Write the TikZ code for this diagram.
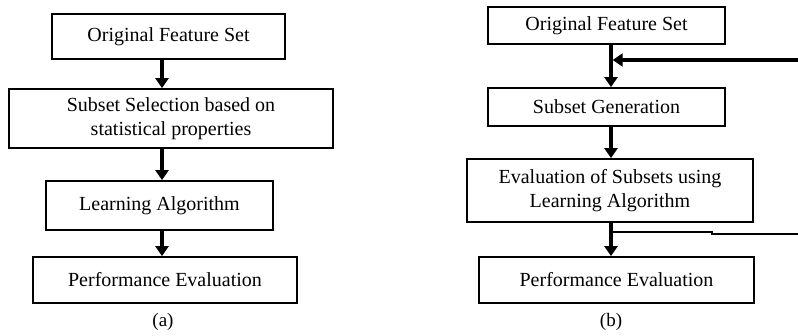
\documentclass[tikz,border=0pt]{standalone}
\usepackage{fontspec}
\setmainfont{Liberation Serif}
\usetikzlibrary{arrows.meta}
\begin{document}
\begin{tikzpicture}[x=1pt,y=-1pt,
  box/.style={draw=black,line width=1.8pt,inner sep=0pt,align=center,font=\fontsize{20}{24}\selectfont},
  flow/.style={line width=3.4pt,-{Triangle[width=13pt,length=10pt]}},
  thin/.style={line width=1.8pt},
  lab/.style={font=\fontsize{19}{23}\selectfont}]
\useasboundingbox (0,0) rectangle (798,335);
% (a)
\node[box,minimum width=233pt,minimum height=45pt] (a1) at (168.5,36.5) {Original Feature Set};
\node[box,minimum width=324pt,minimum height=59pt] (a2) at (171,118.5) {Subset Selection based on\\statistical properties};
\node[box,minimum width=227pt,minimum height=49pt] (a3) at (159.5,205.5) {Learning Algorithm};
\node[box,minimum width=264pt,minimum height=46pt] (a4) at (165,280) {Performance Evaluation};
\coordinate (ax) at (162,0);
\draw[flow] (ax |- a1.south) -- (ax |- a2.north);
\draw[flow] (ax |- a2.south) -- (ax |- a3.north);
\draw[flow] (ax |- a3.south) -- (ax |- a4.north);
\node[lab] (la) at (163,322) {(a)};
% (b)
\node[box,minimum width=237pt,minimum height=37pt] (b1) at (606.5,25.5) {Original Feature Set};
\node[box,minimum width=237pt,minimum height=38pt] (b2) at (606.5,107) {Subset Generation};
\node[box,minimum width=286pt,minimum height=63pt] (b3) at (610,190.5) {Evaluation of Subsets using\\Learning Algorithm};
\node[box,minimum width=275pt,minimum height=46pt] (b4) at (616.5,280) {Performance Evaluation};
\coordinate (bx) at (611,0);
\draw[flow] (bx |- b1.south) -- (bx |- b2.north);
\draw[flow] (bx |- b2.south) -- (bx |- b3.north);
\draw[flow] (bx |- b3.south) -- (bx |- b4.north);
\coordinate (fbin) at (798,60);
\coordinate (fbout) at (798,234);
\coordinate (step) at (712,232);
\draw[flow] (fbin) -- ([xshift=1.7pt]bx |- fbin);
\draw[thin] (bx |- step) -- (step) -- (step |- fbout) -- (fbout);
\node[lab] (lb) at (611,322) {(b)};
\end{tikzpicture}
\end{document}
